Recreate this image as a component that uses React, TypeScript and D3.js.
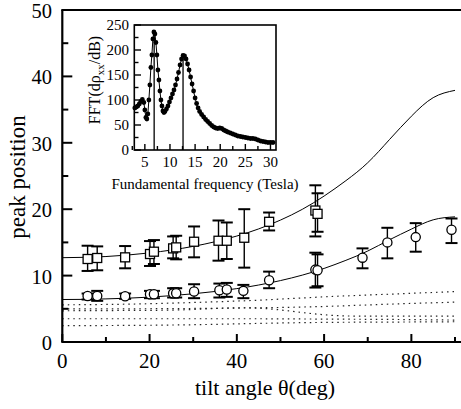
import React from "react";
import * as d3 from "d3";

// ---------- main plot data ----------
const xTicksMajor = [0, 20, 40, 60, 80];
const xTicksMinor = [10, 30, 50, 70, 90];
const yTicksMajor = [0, 10, 20, 30, 40, 50];
const yTicksMinor = [5, 15, 25, 35, 45];

const squareTheta = [5.8, 8.0, 14.4, 20.1, 21.0, 25.4, 26.1, 30.2, 35.8, 37.7, 41.7, 47.4, 58.0, 58.5];
const squareValue = [12.5, 12.65, 12.75, 13.25, 13.6, 14.1, 14.25, 15.1, 15.25, 15.25, 15.7, 18.1, 19.8, 19.3];
const squareLow = [10.7, 10.8, 11.1, 11.45, 11.75, 12.6, 12.45, 12.75, 12.25, 12.5, 11.2, 16.8, 15.9, 16.6];
const squareHigh = [14.5, 14.4, 14.45, 15.2, 15.35, 15.9, 16.0, 17.4, 18.3, 18.0, 20.0, 19.5, 23.6, 22.4];

const circleTheta = [5.8, 8.0, 14.4, 20.1, 21.0, 25.4, 26.1, 30.2, 36.0, 37.7, 41.5, 47.4, 58.0, 58.5, 68.8, 74.5, 81.0, 89.2];
const circleValue = [6.93, 6.93, 6.9, 7.2, 7.2, 7.33, 7.35, 7.6, 7.8, 7.9, 7.7, 9.3, 10.9, 10.8, 12.7, 15.0, 15.8, 16.9];
const circleLow = [6.4, 6.2, 6.5, 6.6, 6.6, 6.7, 6.7, 6.6, 6.7, 6.8, 6.6, 8.1, 8.2, 8.4, 11.1, 12.6, 13.6, 14.9];
const circleHigh = [7.3, 7.7, 7.3, 7.7, 7.7, 8.1, 8.1, 8.7, 8.8, 8.9, 8.6, 10.6, 13.45, 13.2, 14.1, 17.2, 17.9, 18.6];

const curveTheta = [0, 5, 10, 15, 20, 25, 30, 35, 40, 45, 50, 55, 60, 65, 70, 75, 80, 85, 90];
const upperCurve = [12.7, 12.75, 12.87, 13.1, 13.42, 13.85, 14.4, 15.1, 15.96, 17.03, 18.36, 19.98, 21.98, 24.3, 27.0, 30.5, 34.0, 36.8, 37.9];
const lowerCurve = [6.4, 6.42, 6.49, 6.6, 6.76, 6.98, 7.26, 7.61, 8.04, 8.58, 9.25, 10.07, 11.08, 12.3, 13.7, 15.4, 17.0, 18.4, 18.85];

const dottedTheta = [0, 15, 30, 45, 60, 75, 90];
const dotted1 = [5.6, 5.7, 5.95, 6.3, 6.8, 7.2, 7.6];
const dotted2 = [5.0, 5.0, 5.05, 5.15, 5.35, 5.7, 6.0];
const dotted3 = [4.7, 4.75, 4.9, 5.1, 4.1, 3.9, 3.9];
const dotted4 = [3.5, 3.5, 3.5, 3.5, 3.45, 3.4, 3.3];
const dotted5 = [2.45, 2.5, 2.6, 2.8, 2.95, 3.0, 3.05];

// ---------- inset data ----------
const insetFreq = [3.0, 3.3, 3.6, 3.9, 4.2, 4.5, 4.8, 5.0, 5.2, 5.4, 5.6, 5.8, 6.0, 6.2, 6.4, 6.6, 6.8, 7.0, 7.2, 7.4, 7.6, 7.8, 8.0, 8.2, 8.4, 8.6, 8.8, 9.0, 9.3, 9.6, 9.9, 10.2, 10.5, 10.8, 11.1, 11.4, 11.7, 12.0, 12.3, 12.6, 12.9, 13.2, 13.5, 13.8, 14.1, 14.4, 14.7, 15.0, 15.3, 15.6, 15.9, 16.3, 16.7, 17.1, 17.5, 17.9, 18.3, 18.7, 19.1, 19.5, 19.9, 20.3, 20.7, 21.1, 21.5, 22.0, 22.5, 23.0, 23.5, 24.0, 24.5, 25.0, 25.5, 26.0, 26.5, 27.0, 27.5, 28.0, 28.5, 29.0, 29.5, 30.0, 30.5];
const insetFFT = [84, 86, 88, 92, 97, 101, 95, 80, 65, 62, 72, 100, 130, 165, 190, 222, 236, 232, 215, 190, 160, 140, 118, 100, 88, 78, 75, 77, 82, 88, 96, 104, 112, 120, 130, 142, 155, 170, 182, 189, 188, 182, 172, 160, 146, 132, 118, 104, 93, 84, 77, 71, 66, 61, 57, 53, 49, 46, 44, 43, 44, 43, 40, 38, 36, 34, 32, 30, 28, 27, 26, 25, 24, 23, 23, 22, 20, 18, 17, 16, 15, 15, 15];
const insetPeakFreq = [6.85, 12.6];
const insetPeakValue = [234, 190];
const insetXTicks = [5, 10, 15, 20, 25, 30];
const insetXMinor = [2.5, 7.5, 12.5, 17.5, 22.5, 27.5];
const insetYTicks = [0, 50, 100, 150, 200, 250];
const insetYMinor = [25, 75, 125, 175, 225];

const FONT = "'Liberation Serif', 'Times New Roman', Times, serif";

export default function App() {
  const W = 461, H = 409;
  const left = 62.3, right = 455, top = 10, bottom = 342;
  const x = d3.scaleLinear().domain([0, 90]).range([left, right]);
  const y = d3.scaleLinear().domain([0, 50]).range([bottom, top]);

  const smooth = d3.line<[number, number]>().x(d => x(d[0])).y(d => y(d[1])).curve(d3.curveNatural);
  const zipper = (xs: number[], ys: number[]) => xs.map((v, i) => [v, ys[i]] as [number, number]);

  // inset scales
  const ix = d3.scaleLinear().domain([2.9, 31.1]).range([134.3, 276]);
  const iy = d3.scaleLinear().domain([0, 250]).range([150, 25]);
  const insetLine = d3.line<[number, number]>().x(d => ix(d[0])).y(d => iy(d[1]));
  const insetPts = zipper(insetFreq, insetFFT);

  const cap = 6;
  const ts = { fontFamily: FONT };

  return (
    <svg width={W} height={H} style={{ position: "absolute", left: 0, top: 0, background: "#fff", fontFamily: FONT }}>
      <rect x={0} y={0} width={W} height={H} fill="#fff" />
      {/* dotted lines */}
      {[dotted1, dotted2, dotted3, dotted4, dotted5].map((d, i) => (
        <path key={"dt" + i} d={smooth(zipper(dottedTheta, d)) || ""} fill="none" stroke="#222" strokeWidth={1.2} strokeDasharray="1.5 4" />
      ))}
      {/* fit curves */}
      <path d={smooth(zipper(curveTheta, upperCurve)) || ""} fill="none" stroke="#000" strokeWidth={1} />
      <path d={smooth(zipper(curveTheta, lowerCurve)) || ""} fill="none" stroke="#000" strokeWidth={1} />

      {/* error bars squares */}
      {squareTheta.map((t, i) => (
        <g key={"se" + i} stroke="#000" strokeWidth={1.4}>
          <line x1={x(t)} x2={x(t)} y1={y(squareLow[i])} y2={y(squareHigh[i])} />
          <line x1={x(t) - cap} x2={x(t) + cap} y1={y(squareLow[i])} y2={y(squareLow[i])} strokeWidth={2} />
          <line x1={x(t) - cap} x2={x(t) + cap} y1={y(squareHigh[i])} y2={y(squareHigh[i])} strokeWidth={2} />
        </g>
      ))}
      {circleTheta.map((t, i) => (
        <g key={"ce" + i} stroke="#000" strokeWidth={1.4}>
          <line x1={x(t)} x2={x(t)} y1={y(circleLow[i])} y2={y(circleHigh[i])} />
          <line x1={x(t) - cap} x2={x(t) + cap} y1={y(circleLow[i])} y2={y(circleLow[i])} strokeWidth={2} />
          <line x1={x(t) - cap} x2={x(t) + cap} y1={y(circleHigh[i])} y2={y(circleHigh[i])} strokeWidth={2} />
        </g>
      ))}
      {/* markers */}
      {squareTheta.map((t, i) => (
        <rect key={"sq" + i} x={x(t) - 4.5} y={y(squareValue[i]) - 4.5} width={9} height={9} fill="#fff" stroke="#000" strokeWidth={1.3} />
      ))}
      {circleTheta.map((t, i) => (
        <circle key={"ci" + i} cx={x(t)} cy={y(circleValue[i])} r={4.6} fill="#fff" stroke="#000" strokeWidth={1.3} />
      ))}

      {/* frame */}
      <line x1={left} x2={left} y1={top} y2={bottom} stroke="#000" strokeWidth={2.2} />
      <line x1={left - 1} x2={W + 2} y1={bottom} y2={bottom} stroke="#000" strokeWidth={2.2} />
      <line x1={left - 1} x2={W + 2} y1={top} y2={top} stroke="#000" strokeWidth={2.2} />

      {/* ticks */}
      {xTicksMajor.map(t => (
        <g key={"xt" + t}>
          <line x1={x(t)} x2={x(t)} y1={bottom} y2={bottom - 8} stroke="#000" strokeWidth={2} />
          <text x={x(t)} y={368} fontSize={21} textAnchor="middle" style={ts}>{t}</text>
        </g>
      ))}
      {xTicksMinor.map(t => (
        <line key={"xm" + t} x1={x(t)} x2={x(t)} y1={bottom} y2={bottom - 5} stroke="#000" strokeWidth={2} />
      ))}
      {yTicksMajor.map(t => (
        <g key={"yt" + t}>
          <line x1={left} x2={left + 10} y1={y(t)} y2={y(t)} stroke="#000" strokeWidth={2} />
          <text x={52} y={y(t) + 8} fontSize={20.5} textAnchor="end" style={ts}>{t}</text>
        </g>
      ))}
      {yTicksMinor.map(t => (
        <line key={"ym" + t} x1={left} x2={left + 6} y1={y(t)} y2={y(t)} stroke="#000" strokeWidth={2} />
      ))}
      <text x={265} y={395} fontSize={22} textAnchor="middle" style={ts}>tilt angle θ(deg)</text>
      <text transform="translate(25,177) rotate(-90)" fontSize={23} textAnchor="middle" style={ts}>peak position</text>

      {/* inset */}
      <rect x={134.3} y={25} width={141.7} height={125} fill="#fff" stroke="#000" strokeWidth={1.6} />
      <path d={insetLine(insetPts) || ""} fill="none" stroke="#000" strokeWidth={1} />
      {insetPts.map((p, i) => (
        <circle key={"ip" + i} cx={ix(p[0])} cy={iy(p[1])} r={2.4} fill="#000" />
      ))}
      {insetPeakFreq.map((f, i) => (
        <line key={"pk" + i} x1={ix(f)} x2={ix(f)} y1={iy(0)} y2={iy(insetPeakValue[i])} stroke="#000" strokeWidth={1.3} />
      ))}
      {insetXTicks.map(t => (
        <g key={"ixt" + t}>
          <line x1={ix(t)} x2={ix(t)} y1={150} y2={144} stroke="#000" strokeWidth={1.4} />
          <text x={ix(t)} y={167} fontSize={15} textAnchor="middle" style={ts}>{t}</text>
        </g>
      ))}
      {insetXMinor.map(t => (
        <line key={"ixm" + t} x1={ix(t)} x2={ix(t)} y1={150} y2={146} stroke="#000" strokeWidth={1.4} />
      ))}
      {insetYTicks.map(t => (
        <g key={"iyt" + t}>
          <line x1={134.3} x2={141} y1={iy(t)} y2={iy(t)} stroke="#000" strokeWidth={1.4} />
          <text x={129} y={iy(t) + 5} fontSize={15} textAnchor="end" style={ts}>{t}</text>
        </g>
      ))}
      {insetYMinor.map(t => (
        <line key={"iym" + t} x1={134.3} x2={138.5} y1={iy(t)} y2={iy(t)} stroke="#000" strokeWidth={1.4} />
      ))}
      <text x={205} y={189} fontSize={15} textAnchor="middle" style={ts}>Fundamental frequency (Tesla)</text>
      <text transform="translate(100,80) rotate(-90)" fontSize={16} textAnchor="middle" style={ts}>
        FFT(dρ<tspan fontSize={11} dy={4}>xx</tspan><tspan dy={-4}>/dB)</tspan>
      </text>
    </svg>
  );
}
